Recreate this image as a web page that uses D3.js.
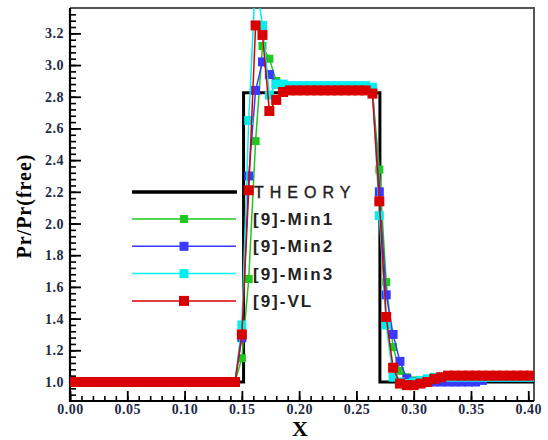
<!DOCTYPE html>
<html>
<head>
<meta charset="utf-8">
<script src="https://cdn.jsdelivr.net/npm/d3@7"></script>
<style>
  body { margin: 0; background: #fff; }
  .tk text { font-family: "Liberation Serif", serif; font-weight: bold; font-size: 14px; fill: #1f2a44; letter-spacing: 0.5px; }
  .leg { font-family: "Liberation Sans", Arial, sans-serif; font-size: 17px; fill: #222; }
</style>
</head>
<body>
<div id="chart"></div>
<script>
// x positions shared by all numerical solutions
var xs = [0.000,0.006,0.012,0.018,0.024,0.030,0.036,0.042,0.048,0.054,
  0.060,0.066,0.072,0.078,0.084,0.090,0.096,0.102,0.108,0.114,
  0.120,0.126,0.132,0.138,0.144,0.150,0.156,0.162,0.168,0.174,
  0.180,0.186,0.192,0.198,0.204,0.210,0.216,0.222,0.228,0.234,
  0.240,0.246,0.252,0.258,0.264,0.270,0.276,0.282,0.288,0.294,
  0.300,0.306,0.312,0.318,0.324,0.330,0.336,0.342,0.348,0.354,
  0.360,0.366,0.372,0.378,0.384,0.390,0.396,0.402];

var min1 = [1.00,1.00,1.00,1.00,1.00,1.00,1.00,1.00,1.00,1.00,
  1.00,1.00,1.00,1.00,1.00,1.00,1.00,1.00,1.00,1.00,
  1.00,1.00,1.00,1.00,1.00,1.15,1.65,2.52,3.12,3.04,
  2.90,2.86,2.85,2.85,2.85,2.85,2.85,2.85,2.85,2.85,
  2.85,2.85,2.85,2.85,2.83,2.34,1.63,1.22,1.07,1.03,
  1.01,1.00,1.01,1.02,1.03,1.04,1.04,1.04,1.04,1.04,
  1.04,1.04,1.04,1.04,1.04,1.04,1.04,1.04];

var min2 = [1.00,1.00,1.00,1.00,1.00,1.00,1.00,1.00,1.00,1.00,
  1.00,1.00,1.00,1.00,1.00,1.00,1.00,1.00,1.00,1.00,
  1.00,1.00,1.00,1.00,1.00,1.28,2.30,2.84,3.02,2.94,
  2.88,2.87,2.86,2.86,2.86,2.86,2.86,2.86,2.86,2.86,
  2.86,2.86,2.86,2.86,2.84,2.20,1.55,1.30,1.13,1.02,
  1.00,1.00,1.00,1.00,1.00,1.00,1.00,1.00,1.00,1.00,
  1.01,1.03,1.03,1.03,1.03,1.03,1.03,1.03];

var min3 = [1.00,1.00,1.00,1.00,1.00,1.00,1.00,1.00,1.00,1.00,
  1.00,1.00,1.00,1.00,1.00,1.00,1.00,1.00,1.00,1.00,
  1.00,1.00,1.00,1.00,1.00,1.36,2.65,3.55,3.25,2.81,
  2.88,2.88,2.87,2.87,2.87,2.87,2.87,2.87,2.87,2.87,
  2.87,2.87,2.87,2.87,2.86,2.05,1.36,1.03,1.00,0.99,
  1.00,1.01,1.02,1.03,1.03,1.03,1.03,1.03,1.03,1.03,
  1.03,1.03,1.03,1.03,1.03,1.03,1.03,1.03];

var vl = [1.00,1.00,1.00,1.00,1.00,1.00,1.00,1.00,1.00,1.00,
  1.00,1.00,1.00,1.00,1.00,1.00,1.00,1.00,1.00,1.00,
  1.00,1.00,1.00,1.00,1.00,1.30,2.21,3.25,3.19,2.71,
  2.78,2.83,2.84,2.84,2.84,2.84,2.84,2.84,2.84,2.84,
  2.84,2.84,2.84,2.84,2.82,2.14,1.41,1.09,0.99,0.98,
  0.98,0.99,1.00,1.02,1.03,1.04,1.04,1.04,1.04,1.04,
  1.04,1.04,1.04,1.04,1.04,1.04,1.04,1.04];

// exact solution (step profile)
var theoryX = [0.000,0.1515,0.1515,0.2705,0.2705,0.405];
var theoryY = [1.00,1.00,2.825,2.825,1.00,1.00];

var xTicks = [0.00,0.05,0.10,0.15,0.20,0.25,0.30,0.35,0.40];
var yTicks = [1.0,1.2,1.4,1.6,1.8,2.0,2.2,2.4,2.6,2.8,3.0,3.2];

var seriesNames = ["[9]-Min1","[9]-Min2","[9]-Min3","[9]-VL"];
var seriesColors = ["#1ec81e","#3a3aff","#00f0f0","#d80000"];
var seriesVals = [min1,min2,min3,vl];
var markSize = [8,9,9,10];

var svgWidth = 548, svgHeight = 440;
var margin = {top: 8, right: 14, bottom: 39, left: 70};
var chartWidth = svgWidth - margin.left - margin.right;
var chartHeight = svgHeight - margin.top - margin.bottom;

var svg = d3.select("#chart").append("svg")
    .attr("width", svgWidth)
    .attr("height", svgHeight);

var chartGroup = svg.append("g")
    .attr("transform", `translate(${margin.left}, ${margin.top})`);

var xSc = d3.scaleLinear().domain([0, 0.405]).range([0, chartWidth]);
var ySc = d3.scaleLinear().domain([0.88, 3.36]).range([chartHeight, 0]);

svg.append("defs").append("clipPath").attr("id", "clip")
  .append("rect").attr("width", chartWidth).attr("height", chartHeight);

// minor ticks
chartGroup.append("g").attr("class", "tk")
    .attr("transform", `translate(0, ${chartHeight})`)
    .call(d3.axisBottom(xSc).tickValues(d3.range(0, 0.405, 0.01)).tickSize(-5).tickFormat(""))
    .call(g => g.select(".domain").remove())
    .selectAll("line").attr("stroke", "#000").attr("stroke-width", 1.6);
chartGroup.append("g").attr("class", "tk")
    .call(d3.axisLeft(ySc).tickValues(d3.range(0.92, 3.36, 0.04)).tickSize(-6).tickFormat(""))
    .call(g => g.select(".domain").remove())
    .selectAll("line").attr("stroke", "#000").attr("stroke-width", 1.6);

// major ticks
var xAx = chartGroup.append("g").attr("class", "tk")
    .attr("transform", `translate(0, ${chartHeight})`)
    .call(d3.axisBottom(xSc).tickValues(xTicks).tickSize(-10).tickPadding(3).tickFormat(d3.format(".2f")));
xAx.select(".domain").remove();
xAx.selectAll("line").attr("stroke", "#000").attr("stroke-width", 1.8);

var yAx = chartGroup.append("g").attr("class", "tk")
    .call(d3.axisLeft(ySc).tickValues(yTicks).tickSize(-11).tickPadding(6).tickFormat(d3.format(".1f")));
yAx.select(".domain").remove();
yAx.selectAll("line").attr("stroke", "#000").attr("stroke-width", 1.8);

// frame
chartGroup.append("path")
    .attr("d", `M0,0H${chartWidth}V${chartHeight}`)
    .attr("fill", "none").attr("stroke", "#555").attr("stroke-width", 2);
chartGroup.append("path")
    .attr("d", `M0,0V${chartHeight}H${chartWidth}`)
    .attr("fill", "none").attr("stroke", "#000").attr("stroke-width", 2.2);

var plot = chartGroup.append("g").attr("clip-path", "url(#clip)");

// theory line
var tLine = d3.line().x((d, i) => xSc(theoryX[i])).y(d => ySc(d));
plot.append("path").datum(theoryY)
    .attr("d", tLine)
    .attr("fill", "none").attr("stroke", "#000").attr("stroke-width", 3);

var line = d3.line().x((d, i) => xSc(xs[i])).y(d => ySc(d));

seriesVals.forEach(function(vals, k) {
    plot.append("path").datum(vals)
        .attr("d", line)
        .attr("fill", "none")
        .attr("stroke", seriesColors[k])
        .attr("stroke-width", 1.5);
    plot.append("g").selectAll("rect")
        .data(vals)
        .enter().append("rect")
        .attr("x", (d, i) => xSc(xs[i]) - markSize[k] / 2)
        .attr("y", d => ySc(d) - markSize[k] / 2)
        .attr("width", markSize[k])
        .attr("height", markSize[k])
        .attr("fill", seriesColors[k]);
});

// legend
var leg = svg.append("g");
leg.append("line")
    .attr("x1", 132).attr("x2", 237).attr("y1", 192).attr("y2", 192)
    .attr("stroke", "#000").attr("stroke-width", 3.5);
leg.append("text").attr("class", "leg")
    .attr("x", 254).attr("y", 198)
    .style("letter-spacing", "6px")
    .style("font-size", "16px")
    .style("stroke", "#222").style("stroke-width", 0.4)
    .text("THEORY");

seriesNames.forEach(function(name, k) {
    var yy = 219 + k * 27.3;
    leg.append("line")
        .attr("x1", 132).attr("x2", 236).attr("y1", yy).attr("y2", yy)
        .attr("stroke", seriesColors[k]).attr("stroke-width", 1.5);
    leg.append("rect")
        .attr("x", 184 - markSize[k] / 2).attr("y", yy - markSize[k] / 2)
        .attr("width", markSize[k]).attr("height", markSize[k])
        .attr("fill", seriesColors[k]);
    leg.append("text").attr("class", "leg")
        .attr("x", 253).attr("y", yy + 6)
        .style("font-weight", "bold")
        .style("letter-spacing", "2px")
        .text(name);
});

// axis titles
svg.append("text")
    .attr("x", 300).attr("y", 436)
    .attr("text-anchor", "middle")
    .style("font-family", "Liberation Serif, serif")
    .style("font-weight", "bold")
    .style("font-size", "22px")
    .text("X");

svg.append("text")
    .attr("transform", "translate(31, 206) rotate(-90)")
    .attr("text-anchor", "middle")
    .style("font-family", "Liberation Serif, serif")
    .style("font-weight", "bold")
    .style("font-size", "20px")
    .style("letter-spacing", "1px")
    .text("Pr/Pr(free)");
</script>
</body>
</html>
